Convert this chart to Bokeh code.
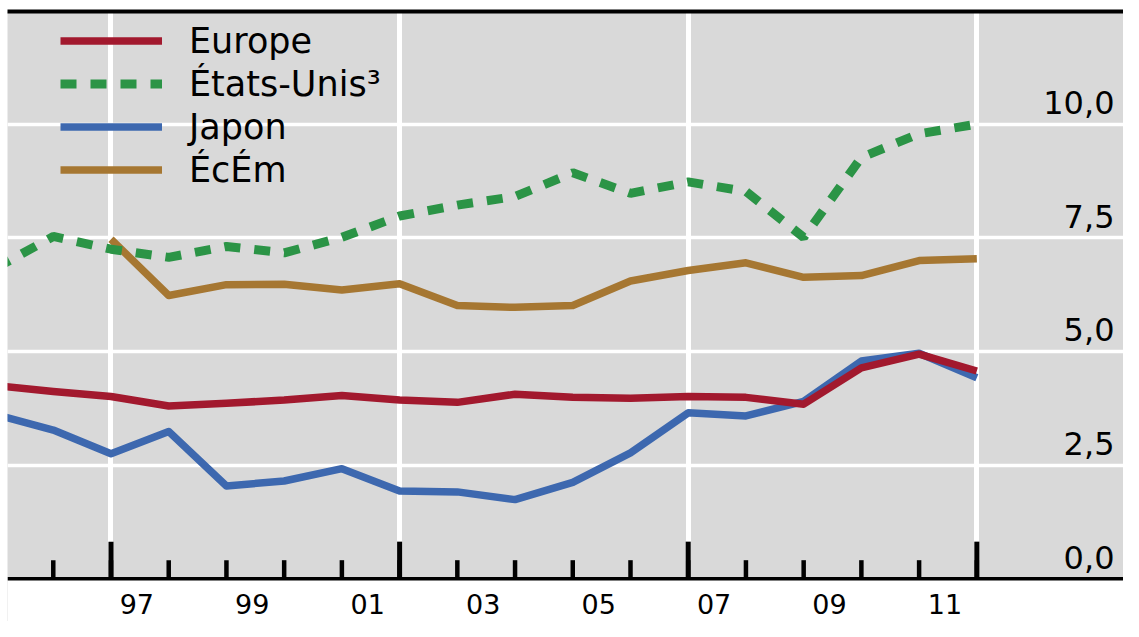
from bokeh.plotting import figure
from bokeh.models import (Range1d, FixedTicker, LinearAxis, Grid, Legend, LegendItem,
                          LabelSet, ColumnDataSource, BoxAnnotation, Span)
from bokeh.core.properties import value
from bokeh.embed import file_html
from bokeh.resources import INLINE

# ---- data ----
years = list(range(1995, 2013))
europe = [4.25, 4.12, 4.01, 3.80, 3.86, 3.93, 4.03, 3.93, 3.88, 4.06, 3.99, 3.97, 4.01, 3.99, 3.84, 4.64, 4.94, 4.57]
etats_unis = [6.83, 7.53, 7.25, 7.07, 7.31, 7.17, 7.51, 7.98, 8.22, 8.41, 8.93, 8.48, 8.73, 8.52, 7.51, 9.27, 9.79, 10.0]
japon = [3.61, 3.27, 2.75, 3.24, 2.04, 2.15, 2.42, 1.93, 1.91, 1.74, 2.12, 2.77, 3.65, 3.58, 3.90, 4.79, 4.96, 4.42]
ecem_years = list(range(1997, 2013))
ecem = [7.47, 6.23, 6.47, 6.48, 6.35, 6.49, 6.01, 5.97, 6.01, 6.55, 6.78, 6.95, 6.63, 6.67, 7.00, 7.04]

series_names = ["Europe", "États-Unis³", "Japon", "ÉcÉm"]

y_ticks = [0, 2.5, 5, 7.5, 10]
y_labels = ["0,0", "2,5", "5,0", "7,5", "10,0"]
x_label_years = [1997, 1999, 2001, 2003, 2005, 2007, 2009, 2011]
x_labels = ["97", "99", "01", "03", "05", "07", "09", "11"]
major_years = [1997, 2002, 2007, 2012]
minor_years = list(range(1996, 2013))

# ---- styling ----
XMIN, XMAX = 1995.207, 2014.541
YMIN, YMAX = -0.942, 12.48
MINOR_LEN = 0.407   # tick lengths in value units
MAJOR_LEN = 0.815
C_EU = "#a2192e"
C_US = "#2b9446"
C_JP = "#3d68af"
C_EC = "#a67732"
BG = "#d9d9d9"
FONT = "DejaVu Sans"

p = figure(width=1123, height=621,
           x_range=Range1d(XMIN, XMAX), y_range=Range1d(YMIN, YMAX),
           output_backend="svg", toolbar_location=None,
           x_axis_location=None, y_axis_location=None,
           min_border_left=7, min_border_right=0, min_border_top=11, min_border_bottom=0)
p.background_fill_color = BG
p.border_fill_color = "white"
p.outline_line_color = None
p.center = [r for r in p.center if not isinstance(r, Grid)]

p.add_layout(Grid(dimension=0, ticker=FixedTicker(ticks=major_years),
                  grid_line_color="white", grid_line_width=5))
p.add_layout(Grid(dimension=1, ticker=FixedTicker(ticks=y_ticks[1:]),
                  grid_line_color="white", grid_line_width=3.5))

# white area below the zero line (room for the year labels)
p.add_layout(BoxAnnotation(left=XMIN, right=XMAX, bottom=YMIN, top=0,
                           fill_color="white", fill_alpha=1, line_alpha=0, level="underlay"))

# top rule
top = LinearAxis(ticker=FixedTicker(ticks=[]), axis_line_color="black", axis_line_width=4,
                 major_tick_in=0, major_tick_out=0, minor_tick_in=0, minor_tick_out=0,
                 major_label_standoff=0)
p.add_layout(top, "above")

r_jp = p.line(years, japon, line_color=C_JP, line_width=7.5, line_join="round")
r_eu = p.line(years, europe, line_color=C_EU, line_width=7.5, line_join="round")
r_ec = p.line(ecem_years, ecem, line_color=C_EC, line_width=7.5, line_join="round")
r_us = p.line(years, etats_unis, line_color=C_US, line_width=9, line_dash="16 14")

# x axis: zero line + inward ticks
p.segment(x0=minor_years, y0=[0] * len(minor_years), x1=minor_years,
          y1=[MINOR_LEN] * len(minor_years), line_color="black", line_width=4.5)
p.segment(x0=major_years, y0=[0] * len(major_years), x1=major_years,
          y1=[MAJOR_LEN] * len(major_years), line_color="black", line_width=5)
p.add_layout(Span(location=0, dimension="width", line_color="black", line_width=3.5))

legend = Legend(items=[LegendItem(label=series_names[0], renderers=[r_eu]),
                       LegendItem(label=series_names[1], renderers=[r_us]),
                       LegendItem(label=series_names[2], renderers=[r_jp]),
                       LegendItem(label=series_names[3], renderers=[r_ec])],
                location=(53, 430), orientation="vertical",
                background_fill_alpha=0, border_line_alpha=0, padding=0, margin=0,
                spacing=0, glyph_width=102, glyph_height=43, label_height=43,
                label_standoff=27, label_text_font=FONT, label_text_font_size="35px",
                label_text_color="black")
p.add_layout(legend)

ysrc = ColumnDataSource(dict(x=[XMAX] * len(y_ticks), y=y_ticks, text=y_labels))
p.add_layout(LabelSet(x="x", y="y", text="text", source=ysrc,
                      text_align="right", text_baseline="alphabetic",
                      x_offset=-9, y_offset=10, text_font=value(FONT),
                      text_font_size="32px", text_color="black"))

xsrc = ColumnDataSource(dict(x=[yr + 0.5 for yr in x_label_years],
                             y=[0] * len(x_label_years), text=x_labels))
p.add_layout(LabelSet(x="x", y="y", text="text", source=xsrc,
                      text_align="center", text_baseline="alphabetic",
                      x_offset=-3, y_offset=-35, text_font=value(FONT),
                      text_font_size="27px", text_color="black"))

open("out.html", "w").write(file_html(p, INLINE))
